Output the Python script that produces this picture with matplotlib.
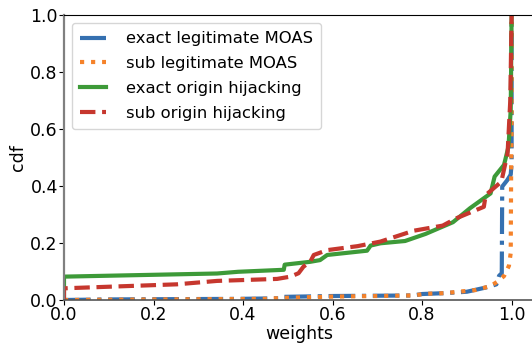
import matplotlib
matplotlib.use("Agg")
import matplotlib.pyplot as plt

# CDF breakpoints (weight, cumulative fraction) for each event class
exact_moas_w = [0.0, 0.10, 0.39, 0.485, 0.49, 0.60, 0.70, 0.78, 0.80, 0.85,
                0.90, 0.946, 0.966, 0.972, 0.978, 0.979, 0.990, 0.998, 1.0, 1.0]
exact_moas_cdf = [0.0, 0.002, 0.004, 0.006, 0.011, 0.014, 0.015, 0.016, 0.021, 0.024,
                  0.029, 0.045, 0.055, 0.085, 0.094, 0.398, 0.42, 0.44, 0.48, 1.0]

sub_moas_w = [0.0, 0.45, 0.50, 0.60, 0.70, 0.78, 0.81, 0.85, 0.92, 0.953,
              0.968, 0.983, 0.994, 0.998, 0.999, 1.0, 1.0]
sub_moas_cdf = [0.0, 0.004, 0.008, 0.012, 0.014, 0.016, 0.022, 0.024, 0.035, 0.049,
                0.064, 0.084, 0.12, 0.165, 0.48, 0.60, 1.0]

exact_hijack_w = [0.0, 0.0, 0.342, 0.389, 0.491, 0.493, 0.55, 0.572, 0.588, 0.677,
                  0.685, 0.707, 0.762, 0.808, 0.869, 0.907, 0.953, 0.962, 0.983,
                  0.993, 0.998, 1.0]
exact_hijack_cdf = [0.0, 0.082, 0.093, 0.099, 0.106, 0.124, 0.134, 0.140, 0.158, 0.173,
                    0.191, 0.199, 0.207, 0.232, 0.273, 0.322, 0.374, 0.433, 0.474,
                    0.538, 0.667, 1.0]

sub_hijack_w = [0.0, 0.0, 0.252, 0.342, 0.476, 0.506, 0.524, 0.535, 0.550, 0.558,
                0.588, 0.656, 0.707, 0.781, 0.846, 0.877, 0.938, 0.942, 0.977,
                0.991, 0.997, 1.0]
sub_hijack_cdf = [0.0, 0.041, 0.055, 0.067, 0.074, 0.082, 0.094, 0.117, 0.134, 0.158,
                  0.175, 0.189, 0.205, 0.243, 0.261, 0.287, 0.327, 0.368, 0.415,
                  0.515, 0.70, 1.0]

labels = ["exact legitimate MOAS", "sub legitimate MOAS",
          "exact origin hijacking", "sub origin hijacking"]
colors = ["#3570b0", "#f5822a", "#3d9a38", "#c6372e"]
styles = ["-.", ":", "-", "--"]

fig = plt.figure(figsize=(5.32, 3.45), dpi=100)
ax = fig.add_axes([64 / 532, 45 / 345, 470 / 532, 285 / 345])

series = [(exact_moas_w, exact_moas_cdf), (sub_moas_w, sub_moas_cdf),
          (exact_hijack_w, exact_hijack_cdf), (sub_hijack_w, sub_hijack_cdf)]
for (w, c), lab, col, ls in zip(series, labels, colors, styles):
    ax.plot(w, c, ls, color=col, lw=3, label=lab)

ax.set_xlim(0, 1.05)
ax.set_ylim(0, 1.0)
ax.set_xticks([0.0, 0.2, 0.4, 0.6, 0.8, 1.0])
ax.set_yticks([0.0, 0.2, 0.4, 0.6, 0.8, 1.0])
ax.tick_params(labelsize=12.5, length=3.5, width=0.8, pad=1)
ax.set_xlabel("weights", fontsize=12.5, labelpad=0.5)
ax.set_ylabel("cdf", fontsize=12.5, labelpad=2)

ax.spines["left"].set_color("#808080")
ax.spines["left"].set_linewidth(1.6)
ax.spines["bottom"].set_color("#555555")
ax.spines["bottom"].set_linewidth(1.2)
ax.spines["top"].set_color("black")
ax.spines["right"].set_visible(False)

ax.legend(loc="upper left", fontsize=11.8, handlelength=1.55,
          handletextpad=1.25, labelspacing=0.6, borderpad=0.5)

fig.savefig("out.png", dpi=100)
